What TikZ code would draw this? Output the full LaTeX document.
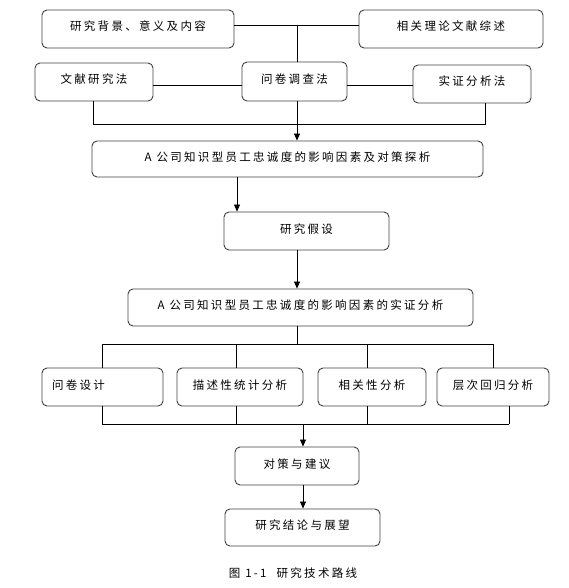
\documentclass[tikz,border=0pt]{standalone}
\usepackage{fontspec}
\setmainfont{Noto Sans CJK SC}
\newfontfamily\boxfont[LetterSpace=20]{Noto Sans CJK SC}
\usetikzlibrary{arrows.meta}
\begin{document}
\begin{tikzpicture}[x=1pt,y=-1pt,line width=0.8pt,>={Triangle[length=7pt,width=6pt]},
	box/.style={draw=black!75,line width=0.9pt,rounded corners=5pt,minimum height=38pt,inner sep=0pt,text height=9pt,text depth=5pt,font=\boxfont\fontsize{11.5}{13}\selectfont}]
			\useasboundingbox (0,0) rectangle (569,588);
			% boxes
			\node[box,minimum width=192pt] (bg) at (138,29) {研究背景、意义及内容};
			\node[box,minimum width=184pt] (lit) at (451,29) {相关理论文献综述};
			\node[box,minimum width=118pt] (wx) at (94,82) {文献研究法};
			\node[box,minimum width=105pt,minimum height=39pt] (wj) at (294.5,81.5) {问卷调查法};
			\node[box,minimum width=118pt] (sz) at (472,84) {实证分析法};
			\node[box,minimum width=391pt,minimum height=36pt] (tx) at (287.5,159) {A 公司知识型员工忠诚度的影响因素及对策探析};
			\node[box,minimum width=165pt] (jd) at (306.5,231) {研究假设};
			\node[box,minimum width=345pt,minimum height=37pt] (sf) at (300.5,307.5) {A 公司知识型员工忠诚度的影响因素的实证分析};
			\node[box,minimum width=121pt,text width=101pt,align=left,inner xsep=10pt] (wjsj) at (102.5,387) {问卷设计};
			\node[box,minimum width=126pt] (ms) at (240,387) {描述性统计分析};
			\node[box,minimum width=108pt] (xg) at (372,387) {相关性分析};
			\node[box,minimum width=112pt] (cc) at (493,387) {层次回归分析};
			\node[box,minimum width=124pt] (dc) at (297,466) {对策与建议};
			\node[box,minimum width=155pt,minimum height=37pt] (jl) at (302.5,527.5) {研究结论与展望};
			\node[font=\boxfont\fontsize{11.5}{13}\selectfont] (cap) at (293,573) {图 1-1\hspace{10pt}研究技术路线};
			% top part
			\coordinate (t1) at (297,25);
			\coordinate (t2) at (297,85);
			\draw (bg.east |- t1) -- (lit.west |- t1);
			\draw (t1) -- (t1 |- wj.north);
			\draw (wx.east |- t2) -- (wj.west |- t2);
			\draw (wj.east |- t2) -- (sz.west |- t2);
			\coordinate (m1) at (93,124);
			\coordinate (m2) at (485,124);
			\draw (m1 |- wx.south) -- (m1) -- (m2) -- (m2 |- sz.south);
			\draw[->] (t1 |- wj.south) -- (t1 |- tx.north);
			\coordinate (m3) at (237,0);
			\draw[->] (m3 |- tx.south) -- (m3 |- jd.north);
			\draw[->] (t1 |- jd.south) -- (t1 |- sf.north);
			% branches
			\coordinate (b1) at (297,344);
			\coordinate (u1) at (102,344);
			\coordinate (u2) at (493,344);
			\draw (t1 |- sf.south) -- (b1);
			\draw (u1) -- (u2);
			\foreach \n/\x in {wjsj/102,ms/236,xg/367,cc/493}{
				\coordinate (u) at (\x,344);
				\draw (u) -- (u |- \n.north);
			}
			\coordinate (v1) at (102,424);
			\coordinate (v2) at (509,424);
			\foreach \n/\x in {wjsj/102,ms/236,xg/367,cc/509}{
				\coordinate (v) at (\x,424);
				\draw (v |- \n.south) -- (v);
			}
			\draw (v1) -- (v2);
			\coordinate (b2) at (303,424);
			\draw[->] (b2) -- (b2 |- dc.north);
			\draw[->] (b2 |- dc.south) -- (b2 |- jl.north);
	\end{tikzpicture}
\end{document}
